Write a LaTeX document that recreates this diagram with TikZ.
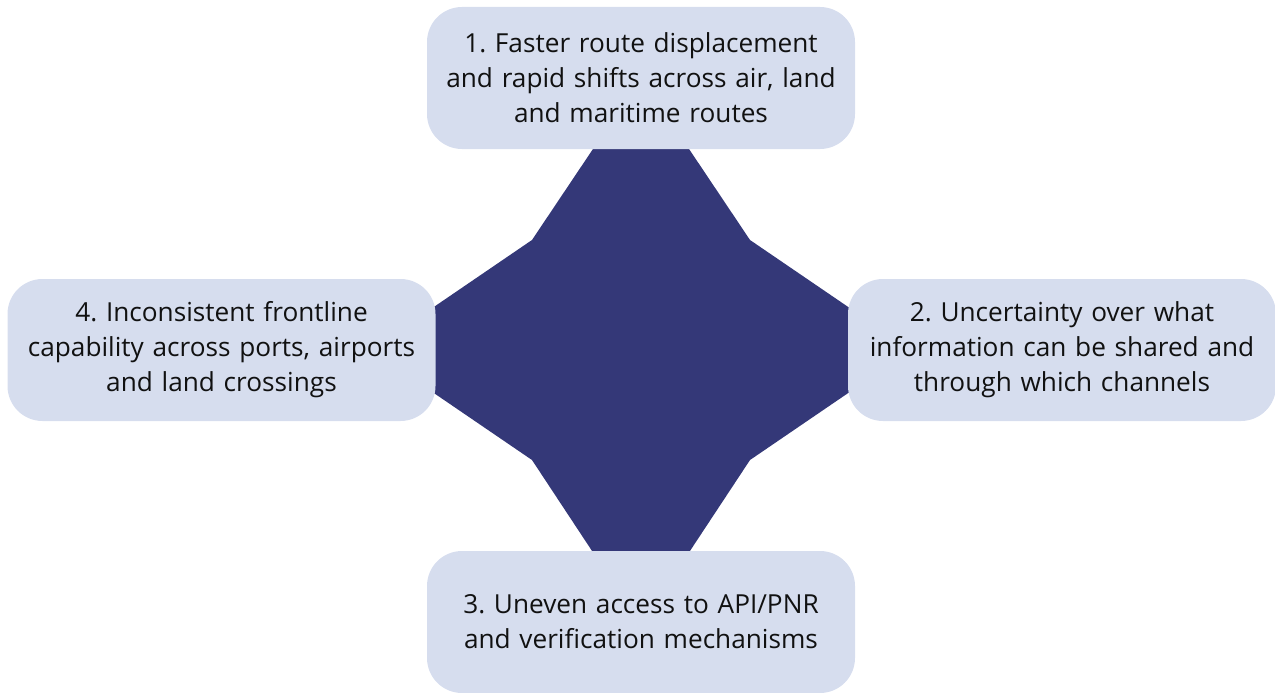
\documentclass[tikz,border=0pt]{standalone}
\usepackage{fontspec}
\setmainfont{Open Sans}
\usepackage{tikz}
\usetikzlibrary{calc}
\definecolor{navy}{HTML}{343878}
\definecolor{boxfill}{HTML}{D6DDEE}
\definecolor{ink}{HTML}{111111}
\frenchspacing

\begin{document}
\begin{tikzpicture}[x=1pt,y=-1pt,
	issue/.style={rectangle, rounded corners=35pt, fill=boxfill,
		minimum width=428pt, minimum height=142pt, text width=420pt,
		align=center, text=ink, font=\fontsize{26.2}{35}\selectfont}]
	\def\cx{641};
	\def\cy{350};

	\useasboundingbox (0,0) rectangle (1275,693);

	\begin{scope}
		\coordinate (nw) at (532,240);
		\coordinate (ne) at (750,240);
		\coordinate (se) at (750,460);
		\coordinate (sw) at (532,460);
		\fill[navy] (599,140) -- (683,140) -- (ne) -- (857,313) -- (857,387)
			-- (se) -- (684,560) -- (598,560) -- (sw) -- (425,387) -- (425,313)
			-- (nw) -- cycle;
	\end{scope}

	\begin{scope}
		\node[issue] (route) at (\cx,78) {1. Faster route displacement\\and rapid shifts across air, land\\and maritime routes};
		\node[issue] (share) at (1062,\cy) {2. Uncertainty over what\\information can be shared and\\through which channels};
		\node[issue] (access) at (\cx,622) {3. Uneven access to API/PNR\\and verification mechanisms};
		\node[issue] (front) at (221.5,\cy) {4. Inconsistent frontline\\capability across ports, airports\\and land crossings};
	\end{scope}
\end{tikzpicture}
\end{document}
